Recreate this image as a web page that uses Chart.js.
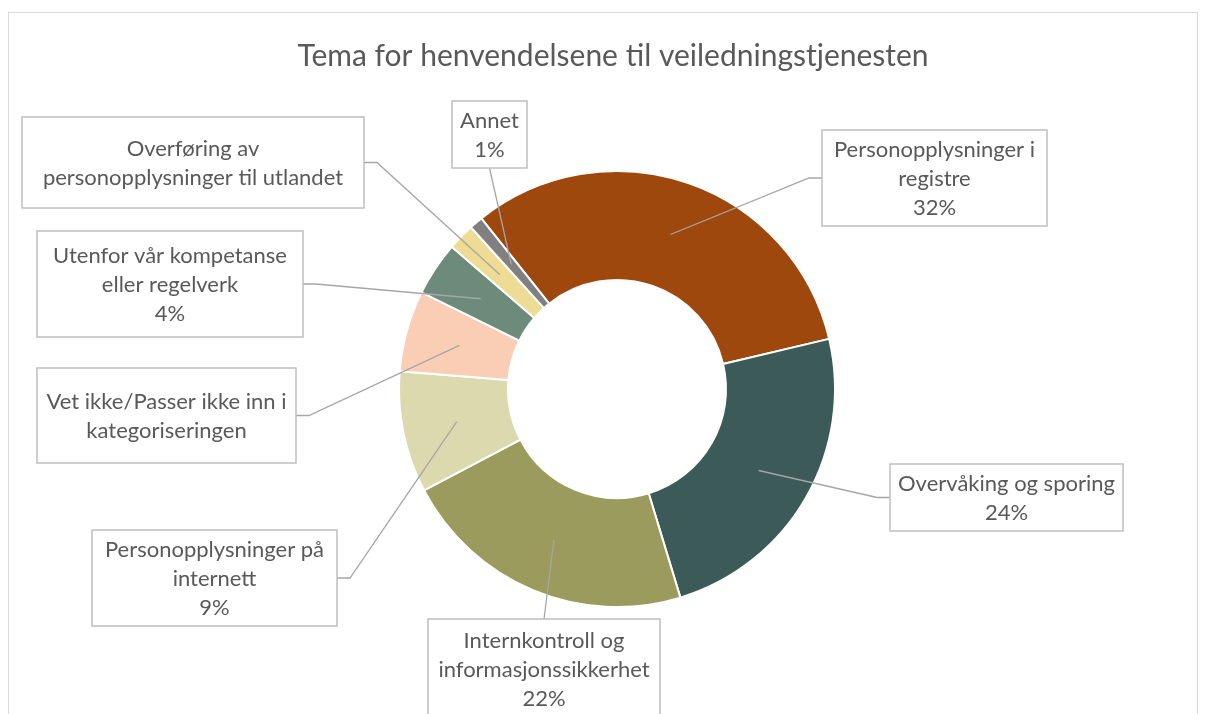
<!DOCTYPE html>
<html>
<head>
<meta charset="utf-8">
<script src="https://cdn.jsdelivr.net/npm/chart.js@4.4.1/dist/chart.umd.min.js"></script>
<style>
  html, body { margin: 0; padding: 0; background: #fff; }
</style>
</head>
<body>
<canvas id="chart" width="1206" height="714"></canvas>
<script>
const chartTitle = "Tema for henvendelsene til veiledningstjenesten";
const categories = [
  "Personopplysninger i registre",
  "Overvåking og sporing",
  "Internkontroll og informasjonssikkerhet",
  "Personopplysninger på internett",
  "Vet ikke/Passer ikke inn i kategoriseringen",
  "Utenfor vår kompetanse eller regelverk",
  "Overføring av personopplysninger til utlandet",
  "Annet"
];
const shares = [32, 24, 22, 9, 6, 4, 2, 1];
const showShare = [true, true, true, true, false, true, false, true];
const sliceColors = ["#9E480E", "#3B5A58", "#9A9B5C", "#DCD9AF", "#F9CEB5", "#6C8B7A", "#EEDC94", "#808080"];

// label box layout (same order as categories)
const labelBoxes = [
  { x: 822, y: 130, w: 225, h: 96,  lines: ["Personopplysninger i", "registre"], side: "left" },
  { x: 890, y: 464, w: 233, h: 67,  lines: ["Overvåking og sporing"], side: "left" },
  { x: 428, y: 619, w: 232, h: 100, lines: ["Internkontroll og", "informasjonssikkerhet"], side: "top" },
  { x: 92,  y: 530, w: 245, h: 96,  lines: ["Personopplysninger på", "internett"], side: "right" },
  { x: 37,  y: 368, w: 259, h: 95,  lines: ["Vet ikke/Passer ikke inn i", "kategoriseringen"], side: "right" },
  { x: 37,  y: 231, w: 266, h: 106, lines: ["Utenfor vår kompetanse", "eller regelverk"], side: "right" },
  { x: 22,  y: 117, w: 342, h: 91,  lines: ["Overføring av", "personopplysninger til utlandet"], side: "right" },
  { x: 452, y: 101, w: 75,  h: 67,  lines: ["Annet"], side: "bottom" }
];

const FONT = "Lato, 'Open Sans', sans-serif";
const TEXT = "#595959";

const decorations = {
  id: "decorations",
  beforeDraw(chart) {
    const c = chart.ctx;
    c.save();
    c.fillStyle = "#fff";
    c.fillRect(0, 0, chart.width, chart.height);
    c.strokeStyle = "#D9D9D9";
    c.lineWidth = 1;
    c.strokeRect(8.5, 12.5, 1189, 720);
    c.fillStyle = TEXT;
    c.font = "30px " + FONT;
    c.textAlign = "center";
    c.textBaseline = "middle";
    c.fillText(chartTitle, 613, 56);
    c.restore();
  },
  afterDatasetsDraw(chart) {
    const c = chart.ctx;
    const arcs = chart.getDatasetMeta(0).data;
    c.save();
    // leader lines
    c.strokeStyle = "#A6A6A6";
    c.lineWidth = 1.3;
    labelBoxes.forEach((b, i) => {
      const p = arcs[i].tooltipPosition();
      const cy = b.y + b.h / 2, cx = b.x + b.w / 2;
      c.beginPath();
      if (b.side === "left") {
        c.moveTo(b.x, cy); c.lineTo(b.x - 13, cy);
      } else if (b.side === "right") {
        c.moveTo(b.x + b.w, cy); c.lineTo(b.x + b.w + 13, cy);
      } else if (b.side === "top") {
        c.moveTo(cx, b.y);
      } else {
        c.moveTo(cx, b.y + b.h);
      }
      c.lineTo(p.x, p.y);
      c.stroke();
    });
    // boxes and text
    c.font = "22px " + FONT;
    c.textAlign = "center";
    c.textBaseline = "middle";
    labelBoxes.forEach((b, i) => {
      c.fillStyle = "#fff";
      c.fillRect(b.x, b.y, b.w, b.h);
      c.strokeStyle = "#BFBFBF";
      c.lineWidth = 1.5;
      c.strokeRect(b.x, b.y, b.w, b.h);
      const lines = b.lines.slice();
      if (showShare[i]) lines.push(shares[i] + "%");
      const lh = 29;
      const top = b.y + b.h / 2 - (lines.length - 1) * lh / 2 + 1;
      c.fillStyle = TEXT;
      lines.forEach((t, k) => c.fillText(t, b.x + b.w / 2, top + k * lh));
    });
    c.restore();
  }
};

new Chart(document.getElementById("chart"), {
  type: "doughnut",
  data: {
    labels: categories,
    datasets: [{
      data: shares,
      backgroundColor: sliceColors,
      borderColor: "#fff",
      borderWidth: 2
    }]
  },
  options: {
    responsive: false,
    animation: false,
    rotation: -38.5,
    cutout: "50%",
    layout: { padding: { left: 398, right: 370, top: 170, bottom: 106 } },
    plugins: {
      legend: { display: false },
      tooltip: { enabled: false },
      title: { display: false }
    }
  },
  plugins: [decorations]
});
</script>
</body>
</html>
